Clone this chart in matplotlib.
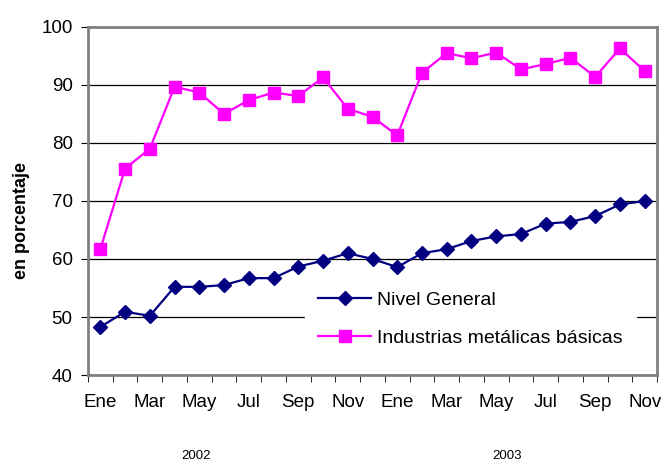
import matplotlib
matplotlib.use("Agg")
import matplotlib.pyplot as plt
import numpy as np

plt.rcParams['font.family'] = ['Liberation Sans', 'DejaVu Sans']

# meses Ene 2002 .. Nov 2003
meses = ["Ene", "Feb", "Mar", "Abr", "May", "Jun", "Jul", "Ago", "Sep", "Oct", "Nov", "Dic",
         "Ene", "Feb", "Mar", "Abr", "May", "Jun", "Jul", "Ago", "Sep", "Oct", "Nov"]
anios = ["2002", "2003"]
nivel_general = [48.3, 50.9, 50.2, 55.2, 55.2, 55.5, 56.7, 56.7, 58.7, 59.7, 61.0, 60.0,
                 58.6, 61.0, 61.7, 63.1, 63.9, 64.3, 66.1, 66.4, 67.4, 69.4, 70.0]
metalicas = [61.7, 75.6, 79.0, 89.7, 88.7, 85.0, 87.4, 88.7, 88.1, 91.3, 85.9, 84.5,
             81.3, 92.1, 95.5, 94.6, 95.6, 92.7, 93.6, 94.7, 91.4, 96.3, 92.4]

fig = plt.figure(figsize=(6.64, 4.62), dpi=100)
ax = fig.add_axes([0.1325, 0.1883, 0.857, 0.7533])

x = np.arange(len(meses))
ax.plot(x, nivel_general, color="#000080", lw=1.6, marker="D", markersize=7.5,
        label="Nivel General", zorder=3)
ax.plot(x, metalicas, color="#FF00FF", lw=1.6, marker="s", markersize=9,
        label="Industrias metálicas básicas", zorder=3)

ax.set_xlim(-0.5, len(meses) - 0.5)
ax.set_ylim(40, 100)
ax.set_yticks(np.arange(40, 101, 10))
ax.yaxis.grid(True, color="black", lw=0.9)
ax.set_axisbelow(True)

ax.set_xticks(x[::2])
ax.set_xticklabels(meses[::2])
ax.set_xticks(np.arange(-0.5, len(meses), 1), minor=True)
ax.tick_params(axis="x", which="major", length=0, pad=14, labelsize=13.5)
ax.tick_params(axis="x", which="minor", length=5, direction="out", color="black")
ax.tick_params(axis="y", length=5, direction="out", labelsize=13.5, pad=6)

for s in ax.spines.values():
    s.set_color("#808080")
    s.set_linewidth(2)

ax.set_ylabel("en porcentaje", fontsize=13, fontweight="bold")
ax.yaxis.set_label_coords(-0.102, 0.445)

fig.text(196 / 664, 1 - 456 / 462, anios[0], fontsize=9.5, ha="center", va="center")
fig.text(507 / 664, 1 - 456 / 462, anios[1], fontsize=9.5, ha="center", va="center")

leg = ax.legend(loc="center left", bbox_to_anchor=(0.381, 0.16), frameon=True,
                fontsize=14, handlelength=2.7, handletextpad=0.3, borderpad=0.7,
                borderaxespad=0, labelspacing=1.05, fancybox=False)
leg.get_frame().set_edgecolor("white")
leg.get_frame().set_facecolor("white")
leg.get_frame().set_alpha(1)
leg.set_zorder(10)

fig.savefig("out.png", dpi=100)
